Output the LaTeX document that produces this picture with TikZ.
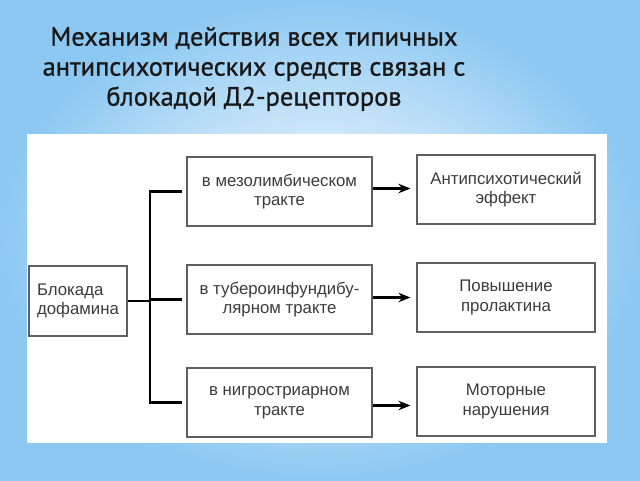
\documentclass[tikz,border=0pt]{standalone}
\usepackage{fontspec}
\setmainfont{Liberation Sans}
\newfontfamily\titlefont[FakeBold=0.8]{PT Sans}
\usetikzlibrary{arrows.meta}
\definecolor{bgblue}{RGB}{140,200,242}
\definecolor{boxline}{RGB}{95,95,95}
\definecolor{txt}{RGB}{60,60,60}
\definecolor{titletxt}{RGB}{24,24,24}
\tikzset{
  box/.style={draw=boxline, line width=1.1pt, fill=white, inner sep=0pt,
    minimum height=69pt, align=center, text=txt,
    font=\fontsize{16.8}{19.5}\selectfont},
  midbox/.style={box, minimum width=185pt},
  resbox/.style={box, minimum width=178pt},
  conn/.style={line width=2.4pt, black, line join=miter},
  arr/.style={line width=2.4pt, black, -{Stealth[length=12pt,width=9.5pt]}, shorten >=6pt}
}
\begin{document}
\begin{tikzpicture}[x=1pt,y=-1pt]
\useasboundingbox (0,0) rectangle (640,480);
\shade[inner color=white, outer color=bgblue] (0,0) rectangle (640,480);
\fill[white] (27,134) rectangle (607,443);
\node[font=\titlefont\fontsize{26.5}{30}\selectfont, text=titletxt, align=center] (title) at (254,69)
  {Механизм действия всех типичных\\антипсихотических средств связан с\\блокадой Д2-рецепторов};
\node[box, minimum width=98pt, minimum height=70pt, align=left] (L) at (78,301) {Блокада\\дофамина};
\node[midbox] (M1) at (279.5,191.5) {в мезолимбическом\\тракте};
\node[midbox] (M2) at (279.5,299.5) {в тубероинфундибу-\\лярном тракте};
\node[midbox] (M3) at (279.5,402.5) {в нигростриарном\\тракте};
\node[resbox] (R1) at (506,189.5) {Антипсихотический\\эффект};
\node[resbox] (R2) at (506,297.5) {Повышение\\пролактина};
\node[resbox] (R3) at (506,401.5) {Моторные\\нарушения};
\coordinate (busx) at (150,300);
\draw[conn] ([xshift=-4pt]M1.west) -| (busx) |- ([xshift=-4pt]M3.west);
\draw[conn] (L.east) -- (L.east -| busx);
\draw[conn] (busx |- M2.west) -- ([xshift=-4pt]M2.west);
\path ([yshift=3pt]M1.east) coordinate (a1);
\path ([yshift=2pt]M2.east) coordinate (a2);
\path ([yshift=-3pt]M3.east) coordinate (a3);
\draw[arr] (a1) -- (a1 -| R1.west);
\draw[arr] (a2) -- (a2 -| R2.west);
\draw[arr] (a3) -- (a3 -| R3.west);
\end{tikzpicture}
\end{document}
